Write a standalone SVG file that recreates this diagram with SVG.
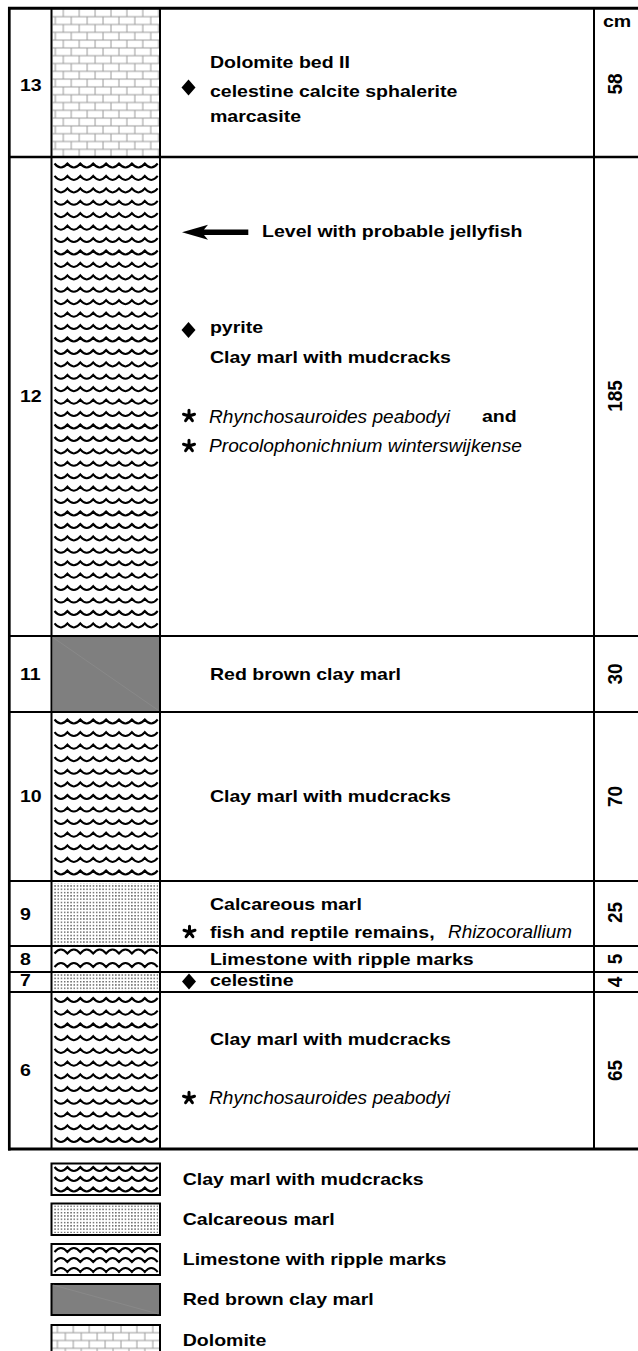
<svg xmlns="http://www.w3.org/2000/svg" xmlns:xlink="http://www.w3.org/1999/xlink" width="638" height="1351" viewBox="0 0 638 1351">
<style>
.t{font-family:"Liberation Sans",Arial,sans-serif;font-weight:bold;font-size:17.3px;fill:#000;transform:scaleX(1.13)}
.i{font-family:"Liberation Sans",Arial,sans-serif;font-style:italic;font-size:19px;fill:#000}
.r{font-family:"Liberation Sans",Arial,sans-serif;font-weight:bold;font-size:19px;fill:#000;text-anchor:middle}
.ln{stroke:#000;stroke-width:2;fill:none}
.thick{stroke:#000;stroke-width:3;fill:none}
.box{stroke:#000;stroke-width:2}
.gray{fill:#7f7f7f}
.diag{stroke:#8c8c8c;stroke-width:0.7}
</style>
<defs>
<path id="w" d="M0,0q6.45,8 12.9,0q6.45,8 12.9,0q6.45,8 12.9,0q6.45,8 12.9,0q6.45,8 12.9,0q6.45,8 12.9,0q6.45,8 12.9,0q6.45,8 12.9,0" fill="none" stroke="#000" stroke-width="2"/>
<path id="rp" d="M0,0q6.45,-8 12.9,0q6.45,-8 12.9,0q6.45,-8 12.9,0q6.45,-8 12.9,0q6.45,-8 12.9,0q6.45,-8 12.9,0q6.45,-8 12.9,0q6.45,-8 12.9,0" fill="none" stroke="#000" stroke-width="2"/>
<polygon id="dia" points="0,-8 7,0 0,8 -7,0" fill="#000"/>
<path id="star" d="M0,0L0,-5.8M0,0L5.5,-1.8M0,0L3.4,4.7M0,0L-3.4,4.7M0,0L-5.5,-1.8" stroke="#000" stroke-width="3" stroke-linecap="round" fill="none"/>
<pattern id="dots" patternUnits="userSpaceOnUse" x="53.5" y="0" width="3.2" height="3.3">
<rect x="1" y="1" width="1.15" height="1.15" fill="#000"/>
</pattern>
<pattern id="dol" patternUnits="userSpaceOnUse" x="43.4" y="5" width="15.9" height="15.6">
<path d="M0,3.9H15.9M0,11.7H15.9M4,3.9V11.7M11.95,11.7V15.6M11.95,0V3.9" stroke="#9a9a9a" stroke-width="1" fill="none"/>
</pattern>
<pattern id="dolL" patternUnits="userSpaceOnUse" x="53.4" y="1321" width="15.9" height="15.6">
<path d="M0,3.9H15.9M0,11.7H15.9M4,3.9V11.7M11.95,11.7V15.6M11.95,0V3.9" stroke="#9a9a9a" stroke-width="1" fill="none"/>
</pattern>
</defs>
<rect width="638" height="1351" fill="#fff"/>

<g id="header">
<text class="t" x="533.6" y="27">cm</text>
</g>

<g id="bed-13">
<rect x="52.5" y="9" width="106.5" height="147" fill="url(#dol)"/>
<text class="t" x="17.7" y="91">13</text>
<text class="t" x="185.8" y="68">Dolomite bed II</text>
<use href="#dia" x="188.5" y="87.5"/>
<text class="t" x="185.8" y="97">celestine calcite sphalerite</text>
<text class="t" x="185.8" y="122">marcasite</text>
<text class="r" transform="translate(622 84) rotate(-90) scale(1 1.1)">58</text>
</g>

<g id="bed-12">
<use href="#w" x="54.5" y="163.5"/><use href="#w" x="54.5" y="175.9"/><use href="#w" x="54.5" y="188.4"/><use href="#w" x="54.5" y="200.8"/><use href="#w" x="54.5" y="213.2"/><use href="#w" x="54.5" y="225.7"/><use href="#w" x="54.5" y="238.1"/><use href="#w" x="54.5" y="250.5"/><use href="#w" x="54.5" y="262.9"/><use href="#w" x="54.5" y="275.4"/><use href="#w" x="54.5" y="287.8"/><use href="#w" x="54.5" y="300.2"/><use href="#w" x="54.5" y="312.7"/><use href="#w" x="54.5" y="325.1"/><use href="#w" x="54.5" y="337.5"/><use href="#w" x="54.5" y="350"/><use href="#w" x="54.5" y="362.4"/><use href="#w" x="54.5" y="374.8"/><use href="#w" x="54.5" y="387.2"/><use href="#w" x="54.5" y="399.7"/><use href="#w" x="54.5" y="412.1"/><use href="#w" x="54.5" y="424.5"/><use href="#w" x="54.5" y="437"/><use href="#w" x="54.5" y="449.4"/><use href="#w" x="54.5" y="461.8"/><use href="#w" x="54.5" y="474.3"/><use href="#w" x="54.5" y="486.7"/><use href="#w" x="54.5" y="499.1"/><use href="#w" x="54.5" y="511.5"/><use href="#w" x="54.5" y="524"/><use href="#w" x="54.5" y="536.4"/><use href="#w" x="54.5" y="548.8"/><use href="#w" x="54.5" y="561.3"/><use href="#w" x="54.5" y="573.7"/><use href="#w" x="54.5" y="586.1"/><use href="#w" x="54.5" y="598.6"/><use href="#w" x="54.5" y="611"/><use href="#w" x="54.5" y="623.4"/>
<text class="t" x="17.7" y="402.5">12</text>
<text class="t" x="231.9" y="237">Level with probable jellyfish</text>
<use href="#dia" x="188.5" y="330"/>
<text class="t" x="185.8" y="333">pyrite</text>
<text class="t" x="185.8" y="363">Clay marl with mudcracks</text>
<use href="#star" x="189" y="416"/>
<text class="i" x="209" y="422.7" textLength="241" lengthAdjust="spacingAndGlyphs">Rhynchosauroides peabodyi</text>
<text class="t" x="426.5" y="422.5">and</text>
<use href="#star" x="189" y="446"/>
<text class="i" x="209" y="452" textLength="313" lengthAdjust="spacingAndGlyphs">Procolophonichnium winterswijkense</text>
<text class="r" transform="translate(622 396) rotate(-90) scale(1 1.1)">185</text>
</g>

<g id="bed-11">
<rect class="gray" x="52.5" y="637" width="106.5" height="74"/>
<line class="diag" x1="53" y1="637.5" x2="158.5" y2="710.5"/>
<text class="t" x="17.7" y="680">11</text>
<text class="t" x="185.8" y="680">Red brown clay marl</text>
<text class="r" transform="translate(622 674) rotate(-90) scale(1 1.1)">30</text>
</g>

<g id="bed-10">
<use href="#w" x="54.5" y="719.5"/><use href="#w" x="54.5" y="732.1"/><use href="#w" x="54.5" y="744.7"/><use href="#w" x="54.5" y="757.2"/><use href="#w" x="54.5" y="769.8"/><use href="#w" x="54.5" y="782.4"/><use href="#w" x="54.5" y="795"/><use href="#w" x="54.5" y="807.6"/><use href="#w" x="54.5" y="820.1"/><use href="#w" x="54.5" y="832.7"/><use href="#w" x="54.5" y="845.3"/><use href="#w" x="54.5" y="857.9"/><use href="#w" x="54.5" y="870.5"/>
<text class="t" x="17.7" y="802.5">10</text>
<text class="t" x="185.8" y="802.5">Clay marl with mudcracks</text>
<text class="r" transform="translate(622 796.5) rotate(-90) scale(1 1.1)">70</text>
</g>

<g id="bed-9">
<rect x="53.5" y="883.5" width="104.5" height="61" fill="url(#dots)"/>
<text class="t" x="17.7" y="920">9</text>
<text class="t" x="185.8" y="910">Calcareous marl</text>
<use href="#star" x="189.5" y="932"/>
<text class="t" x="185.8" y="938">fish and reptile remains,</text>
<text class="i" x="448" y="938" textLength="124" lengthAdjust="spacingAndGlyphs">Rhizocorallium</text>
<text class="r" transform="translate(622 912.5) rotate(-90) scale(1 1.1)">25</text>
</g>

<g id="bed-8">
<use href="#rp" x="54.5" y="953.5"/><use href="#rp" x="54.5" y="967"/>
<text class="t" x="17.7" y="965">8</text>
<text class="t" x="185.8" y="965">Limestone with ripple marks</text>
<text class="r" transform="translate(622 959) rotate(-90) scale(1 1.1)">5</text>
</g>

<g id="bed-7">
<rect x="53.5" y="974" width="104.5" height="17" fill="url(#dots)"/>
<text class="t" x="17.7" y="986.5">7</text>
<use href="#dia" x="189" y="981.5"/>
<text class="t" x="185.8" y="986.5">celestine</text>
<text class="r" transform="translate(622 982) rotate(-90) scale(1 1.1)">4</text>
</g>

<g id="bed-6">
<use href="#w" x="54.5" y="998"/><use href="#w" x="54.5" y="1010.7"/><use href="#w" x="54.5" y="1023.5"/><use href="#w" x="54.5" y="1036.2"/><use href="#w" x="54.5" y="1048.9"/><use href="#w" x="54.5" y="1061.7"/><use href="#w" x="54.5" y="1074.4"/><use href="#w" x="54.5" y="1087.1"/><use href="#w" x="54.5" y="1099.8"/><use href="#w" x="54.5" y="1112.6"/><use href="#w" x="54.5" y="1125.3"/><use href="#w" x="54.5" y="1138"/>
<text class="t" x="17.7" y="1076.5">6</text>
<text class="t" x="185.8" y="1045">Clay marl with mudcracks</text>
<use href="#star" x="189" y="1098"/>
<text class="i" x="209" y="1104" textLength="241" lengthAdjust="spacingAndGlyphs">Rhynchosauroides peabodyi</text>
<text class="r" transform="translate(622 1070.5) rotate(-90) scale(1 1.1)">65</text>
</g>

<g id="frame">
<line class="thick" x1="8" y1="8.3" x2="638" y2="8.3"/>
<line class="thick" x1="8" y1="1149" x2="638" y2="1149"/>
<line class="ln" x1="9.3" y1="7" x2="9.3" y2="1150.5" style="stroke-width:2.7"/>
<line class="ln" x1="51.5" y1="8" x2="51.5" y2="1149"/>
<line class="ln" x1="160" y1="8" x2="160" y2="1149"/>
<line class="ln" x1="594" y1="8" x2="594" y2="1149"/>
<line class="ln" x1="9" y1="157" x2="638" y2="157" style="stroke-width:2.5"/>
<line class="ln" x1="9" y1="636" x2="638" y2="636"/>
<line class="ln" x1="9" y1="712" x2="638" y2="712"/>
<line class="ln" x1="9" y1="881" x2="638" y2="881"/>
<line class="ln" x1="9" y1="946" x2="638" y2="946"/>
<line class="ln" x1="9" y1="972" x2="638" y2="972"/>
<line class="ln" x1="9" y1="992" x2="638" y2="992"/>
</g>

<g id="connectors">
<path d="M182,232.3L208,224.8L204,229.6L248.3,229.6L248.3,235L204,235L208,239.8Z" fill="#000"/>
</g>

<g id="legend">
<g id="legend-clay">
<rect class="box" x="51.5" y="1163.5" width="108.5" height="31.5" fill="#fff"/>
<use href="#w" x="54.5" y="1167"/><use href="#w" x="54.5" y="1177"/><use href="#w" x="54.5" y="1187.5"/>
<text class="t" x="161.7" y="1185">Clay marl with mudcracks</text>
</g>
<g id="legend-calc">
<rect class="box" x="51.5" y="1203.5" width="108.5" height="31.5" fill="#fff"/>
<rect x="53.5" y="1205.5" width="104.5" height="27.5" fill="url(#dots)"/>
<text class="t" x="161.7" y="1225">Calcareous marl</text>
</g>
<g id="legend-lime">
<rect class="box" x="51.5" y="1244" width="108.5" height="31" fill="#fff"/>
<use href="#rp" x="54.5" y="1252"/><use href="#rp" x="54.5" y="1262"/><use href="#rp" x="54.5" y="1272"/>
<text class="t" x="161.7" y="1265.5">Limestone with ripple marks</text>
</g>
<g id="legend-red">
<rect class="box gray" x="51.5" y="1284" width="108.5" height="31"/>
<line class="diag" x1="53" y1="1285" x2="158.5" y2="1314"/>
<text class="t" x="161.7" y="1305.5">Red brown clay marl</text>
</g>
<g id="legend-dol">
<rect class="box" x="51.5" y="1325" width="108.5" height="40" fill="url(#dolL)"/>
<text class="t" x="161.7" y="1346">Dolomite</text>
</g>
</g>
</svg>
